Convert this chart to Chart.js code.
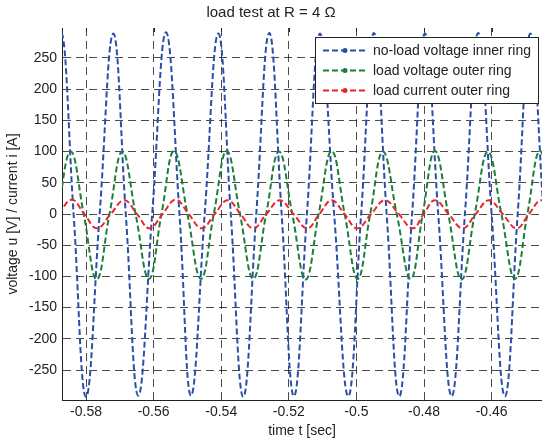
<!DOCTYPE html>
<html>
<head>
<meta charset="utf-8">
<script src="https://cdn.jsdelivr.net/npm/chart.js@4.4.1/dist/chart.umd.min.js"></script>
<style>
  html, body { margin: 0; padding: 0; background: #fff; }
  canvas { display: block; }
</style>
</head>
<body>
<canvas id="loadTest" width="542" height="440"></canvas>
<script>
// tick labels
const xTicks = [-0.58, -0.56, -0.54, -0.52, -0.5, -0.48, -0.46];
const yTicks = [-250, -200, -150, -100, -50, 0, 50, 100, 150, 200, 250];

// no-load voltage inner ring: troughs, zero crossings and peaks
const blueT = [-0.59508, -0.59121, -0.58735, -0.58367, -0.58000, -0.57596, -0.57193, -0.56823, -0.56453, -0.56042,
  -0.55634, -0.55235, -0.54894, -0.54489, -0.54087, -0.53717, -0.53348, -0.52963, -0.52579, -0.52212,
  -0.51848, -0.51464, -0.51079, -0.50659, -0.50242, -0.49860, -0.49482, -0.49106, -0.48733, -0.48352,
  -0.47973, -0.47580, -0.47184, -0.46790, -0.46397, -0.46001, -0.45607, -0.45229, -0.44853, -0.44460, -0.44069];
const blueV = [-292, 0, 290, 0, -293, 0, 289, 0, -291, 0, 291, 0, -291, 0, 289, 0, -293, 0, 290, 0,
  -292, 0, 289, 0, -292, 0, 290, 0, -292, 0, 289, 0, -292, 0, 290, 0, -292, 0, 289, 0, -292];

// load voltage outer ring
const greenT = [-0.59225, -0.58840, -0.58453, -0.58068, -0.57684, -0.57305, -0.56926, -0.56533, -0.56137, -0.55767,
  -0.55397, -0.54998, -0.54599, -0.54220, -0.53839, -0.53445, -0.53052, -0.52670, -0.52292, -0.51898,
  -0.51502, -0.51117, -0.50733, -0.50348, -0.49964, -0.49591, -0.49216, -0.48807, -0.48396, -0.48038,
  -0.47678, -0.47284, -0.46888, -0.46500, -0.46110, -0.45711, -0.45311, -0.44942, -0.44572, -0.44188, -0.43803];
const greenV = [-104, 0, 100, 0, -105, 0, 100, 0, -104, 0, 101, 0, -104, 0, 101, 0, -104, 0, 100, 0,
  -105, 0, 101, 0, -104, 0, 100, 0, -104, 0, 101, 0, -105, 0, 100, 0, -104, 0, 101, 0, -104];

// load current outer ring
const redT = [-0.59192, -0.58807, -0.58423, -0.58050, -0.57675, -0.57269, -0.56867, -0.56492, -0.56122, -0.55734,
  -0.55347, -0.54962, -0.54578, -0.54193, -0.53809, -0.53430, -0.53052, -0.52661, -0.52271, -0.51863,
  -0.51455, -0.51094, -0.50733, -0.50354, -0.49976, -0.49565, -0.49156, -0.48748, -0.48337, -0.48009,
  -0.47678, -0.47270, -0.46858, -0.46471, -0.46080, -0.45672, -0.45261, -0.44894, -0.44528, -0.44143, -0.43759];
const redV = [-23, 0, 23, 0, -23, 0, 22, 0, -23, 0, 23, 0, -23, 0, 22, 0, -23, 0, 22, 0,
  -23, 0, 22, 0, -23, 0, 22, 0, -23, 0, 22, 0, -23, 0, 22, 0, -23, 0, 22, 0, -23];

const FONT = "'Liberation Sans', Arial, Helvetica, sans-serif";
const toPoints = (ts, vs) => ts.map((t, i) => ({ x: t, y: vs[i] }));

const series = [
  { label: 'no-load voltage inner ring', t: blueT, v: blueV, color: '#2b4ea8', order: 2 },
  { label: 'load voltage outer ring', t: greenT, v: greenV, color: '#1b7f3a', order: 1 },
  { label: 'load current outer ring', t: redT, v: redV, color: '#e8262e', order: 0 }
];

// legend box drawn inside the plot, matlab style
const boxLegend = {
  id: 'boxLegend',
  afterDatasetsDraw(chart) {
    const { ctx, chartArea } = chart;
    const w = 223, h = 66;
    const x0 = chartArea.right - w - 4, y0 = chartArea.top + 9;
    ctx.save();
    ctx.fillStyle = '#fff';
    ctx.fillRect(x0, y0, w, h);
    ctx.strokeStyle = '#222';
    ctx.lineWidth = 1;
    ctx.strokeRect(x0 + 0.5, y0 + 0.5, w, h);
    ctx.font = '14px ' + FONT;
    ctx.textBaseline = 'middle';
    series.forEach((s, i) => {
      const y = y0 + 13.5 + i * 20;
      ctx.strokeStyle = s.color;
      ctx.lineWidth = 2;
      ctx.setLineDash([6, 3]);
      ctx.beginPath();
      ctx.moveTo(x0 + 8, y);
      ctx.lineTo(x0 + 52, y);
      ctx.stroke();
      ctx.setLineDash([]);
      ctx.fillStyle = s.color;
      ctx.beginPath();
      ctx.arc(x0 + 30, y, 2.5, 0, Math.PI * 2);
      ctx.fill();
      ctx.fillStyle = '#222';
      ctx.fillText(s.label, x0 + 58, y + 1);
    });
    // small ticks along the top edge
    const xs = chart.scales.x;
    ctx.strokeStyle = '#222';
    ctx.lineWidth = 1;
    xTicks.forEach(v => {
      const px = Math.round(xs.getPixelForValue(v)) + 0.5;
      ctx.beginPath();
      ctx.moveTo(px, chartArea.top);
      ctx.lineTo(px, chartArea.top + 4);
      ctx.stroke();
    });
    ctx.restore();
  }
};

new Chart(document.getElementById('loadTest'), {
  type: 'line',
  data: {
    datasets: series.map(s => ({
      label: s.label,
      data: toPoints(s.t, s.v),
      borderColor: s.color,
      backgroundColor: s.color,
      borderWidth: 2,
      borderDash: [6, 3],
      pointRadius: 0,
      tension: 0.42,
      fill: false,
      clip: 0,
      order: s.order
    }))
  },
  options: {
    responsive: false,
    animation: false,
    layout: { padding: 0 },
    plugins: {
      legend: { display: false },
      tooltip: { enabled: false },
      title: {
        display: true,
        text: 'load test at R = 4 \u03A9',
        color: '#222',
        font: { family: FONT, size: 15, weight: 'normal', lineHeight: 1.1 },
        padding: { top: 5, bottom: 6.5 }
      }
    },
    scales: {
      x: {
        type: 'linear',
        min: -0.5871,
        max: -0.4451,
        afterFit: s => { s.height = 40; },
        afterBuildTicks: s => { s.ticks = xTicks.map(v => ({ value: v })); },
        ticks: {
          color: '#222',
          font: { family: FONT, size: 14 },
          padding: 4,
          maxRotation: 0,
          autoSkip: false,
          callback: v => String(v)
        },
        grid: { color: 'rgba(0,0,0,0.7)', lineWidth: 1, drawTicks: false },
        border: { display: true, color: '#222', width: 1, dash: [8, 5] },
        title: {
          display: true,
          text: 'time t [sec]',
          color: '#222',
          font: { family: FONT, size: 14 },
          padding: { top: 0, bottom: 0 }
        }
      },
      y: {
        min: -298,
        max: 298,
        afterFit: s => { s.width = 62; },
        afterBuildTicks: s => { s.ticks = yTicks.map(v => ({ value: v })); },
        ticks: {
          color: '#222',
          font: { family: FONT, size: 14 },
          padding: 5,
          autoSkip: false,
          callback: v => String(v)
        },
        grid: { color: 'rgba(0,0,0,0.7)', lineWidth: 1, drawTicks: false },
        border: { display: true, color: '#222', width: 1, dash: [8, 5] },
        title: {
          display: true,
          text: 'voltage u [V] / current i [A]',
          color: '#222',
          font: { family: FONT, size: 14 },
          padding: { top: 4.6, bottom: 0 }
        }
      }
    }
  },
  plugins: [boxLegend]
});
</script>
</body>
</html>
